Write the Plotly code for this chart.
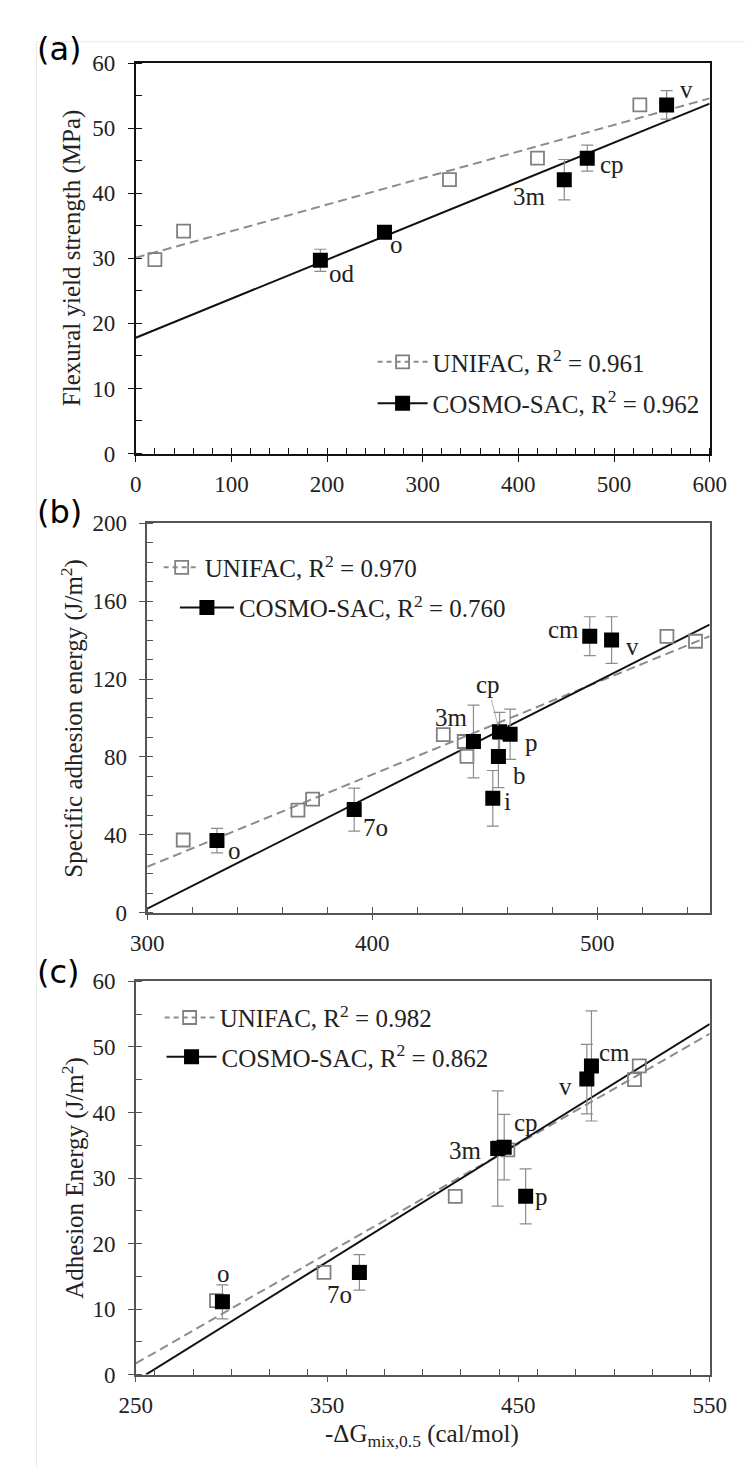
import plotly.graph_objects as go

W, H = 754, 1473

# ---------------- Data ----------------
# Panel (a): Flexural yield strength
a_unifac_x = [20, 50, 328, 420, 527]
a_unifac_y = [29.8, 34.2, 42.1, 45.4, 53.6]
a_cosmo_labels = ["od", "o", "3m", "cp", "v"]
a_cosmo_x = [193, 260, 448, 472, 555]
a_cosmo_y = [29.7, 34.0, 42.1, 45.4, 53.6]
a_cosmo_err = [1.7, 0.5, 3.1, 2.0, 2.2]
a_unifac_fit_x = [0, 600]
a_unifac_fit_y = [30.1, 54.6]
a_cosmo_fit_x = [0, 600]
a_cosmo_fit_y = [17.8, 53.8]
a_r2 = ["0.961", "0.962"]

# Panel (b): Specific adhesion energy
b_unifac_x = [316, 367, 373.5, 431.6, 440.9, 442.1, 457, 531, 543.7]
b_unifac_y = [37.3, 52.6, 58.3, 91.4, 87.9, 80.3, 92.5, 141.9, 139.4]
b_cosmo_labels = ["o", "7o", "3m", "cp", "p", "b", "i", "cm", "v"]
b_cosmo_x = [331, 392, 445, 456.6, 461.3, 456.1, 453.6, 496.7, 506.4]
b_cosmo_y = [37.0, 52.9, 87.9, 92.9, 91.6, 80.2, 58.7, 142.0, 140.0]
b_cosmo_err = [6.3, 11.0, 18.7, 10.0, 12.9, 16.0, 14.3, 10.0, 12.0]
b_unifac_fit_x = [300, 550]
b_unifac_fit_y = [23.5, 142.0]
b_cosmo_fit_x = [300, 550]
b_cosmo_fit_y = [2.0, 148.0]
b_r2 = ["0.970", "0.760"]

# Panel (c): Adhesion energy
c_unifac_x = [292.2, 348.4, 417, 440, 444.5, 510.7, 513.2]
c_unifac_y = [11.3, 15.6, 27.2, 34.6, 34.3, 45.0, 47.1]
c_cosmo_labels = ["o", "7o", "3m", "cp", "p", "v", "cm"]
c_cosmo_x = [295.3, 366.9, 439.2, 442.6, 453.8, 485.8, 488.2]
c_cosmo_y = [11.1, 15.6, 34.5, 34.7, 27.2, 45.1, 47.1]
c_cosmo_err = [2.6, 2.7, 8.8, 5.0, 4.2, 5.3, 8.4]
c_unifac_fit_x = [250, 550]
c_unifac_fit_y = [1.7, 52.0]
c_cosmo_fit_x = [255.3, 550]
c_cosmo_fit_y = [0.0, 53.5]
c_r2 = ["0.982", "0.862"]

# ---------------- Styles ----------------
SERIF = "Liberation Serif, Times New Roman, serif"
TXT = "#222222"
GRAY = "#808080"
ERRC = "#8c8c8c"
TICKFONT = dict(family=SERIF, size=23, color=TXT)
LABFONT = dict(family=SERIF, size=25, color=TXT)

# label pixel offsets (dx right, dy down)
a_off = {"od": (22, 13), "o": (12, 12), "3m": (-35, 17), "cp": (25, 6), "v": (20, -15)}
b_off = {"o": (18, 10), "7o": (21, 18), "3m": (-22, -24), "cp": (-12, -47), "p": (21, 8),
         "b": (21, 19), "i": (15, 3), "cm": (-26, -7), "v": (21, 6)}
c_off = {"o": (1, -28), "7o": (-20, 22), "3m": (-32, 2), "cp": (22, -25), "p": (16, 0),
         "v": (-21, 7), "cm": (23, -13)}

def px_x(p):
    return p / W

def px_y(p):
    return 1 - p / H

panels = [
    dict(key="", ux=a_unifac_x, uy=a_unifac_y, cl=a_cosmo_labels, cx=a_cosmo_x, cy=a_cosmo_y,
         ce=a_cosmo_err, ufx=a_unifac_fit_x, ufy=a_unifac_fit_y, cfx=a_cosmo_fit_x, cfy=a_cosmo_fit_y,
         r2=a_r2, off=a_off, xr=[0, 600], xd=100, xm=20, yr=[0, 60], yd=10, ym=5,
         dom_x=(116, 717), dom_y=(44, 441), lc="#111111", lw=2,
         ytitle="Flexural yield strength (MPa)", tag="(a)", tag_y=29,
         leg=[(364, 348, 50), (364, 390, 50)], arrow=[]),
    dict(key="2", ux=b_unifac_x, uy=b_unifac_y, cl=b_cosmo_labels, cx=b_cosmo_x, cy=b_cosmo_y,
         ce=b_cosmo_err, ufx=b_unifac_fit_x, ufy=b_unifac_fit_y, cfx=b_cosmo_fit_x, cfy=b_cosmo_fit_y,
         r2=b_r2, off=b_off, xr=[300, 550], xd=100, xm=20, yr=[0, 200], yd=40, ym=10,
         dom_x=(128, 717), dom_y=(512, 908), lc="#555555", lw=1.5,
         ytitle="Specific adhesion energy (J/m<sup>2</sup>)", tag="(b)", tag_y=500,
         leg=[(140, 557, 36), (157, 598, 54)], arrow=["cp"]),
    dict(key="3", ux=c_unifac_x, uy=c_unifac_y, cl=c_cosmo_labels, cx=c_cosmo_x, cy=c_cosmo_y,
         ce=c_cosmo_err, ufx=c_unifac_fit_x, ufy=c_unifac_fit_y, cfx=c_cosmo_fit_x, cfy=c_cosmo_fit_y,
         r2=c_r2, off=c_off, xr=[250, 550], xd=100, xm=20, yr=[0, 60], yd=10, ym=5,
         dom_x=(116, 717), dom_y=(978, 1378), lc="#555555", lw=1.5,
         ytitle="Adhesion Energy (J/m<sup>2</sup>)", tag="(c)", tag_y=968,
         leg=[(141, 1015, 50), (143, 1055, 50)], arrow=[]),
]

fig = go.Figure()
annotations = []
layout = {}
legend_no = 0

for i, p in enumerate(panels):
    k = p["key"]
    xa = "x" + k
    ya = "y" + k
    # fit lines
    fig.add_trace(go.Scatter(x=p["ufx"], y=p["ufy"], mode="lines", xaxis=xa, yaxis=ya,
                             line=dict(color="#8c8c8c", width=2, dash="9px,5px"),
                             showlegend=False, hoverinfo="skip"))
    fig.add_trace(go.Scatter(x=p["cfx"], y=p["cfy"], mode="lines", xaxis=xa, yaxis=ya,
                             line=dict(color="#111111", width=2),
                             showlegend=False, hoverinfo="skip"))
    # UNIFAC points
    fig.add_trace(go.Scatter(x=p["ux"], y=p["uy"], mode="markers", xaxis=xa, yaxis=ya,
                             marker=dict(symbol="square-open", size=13, color=GRAY,
                                         line=dict(width=1.8, color=GRAY)),
                             showlegend=False))
    # COSMO points with error bars
    fig.add_trace(go.Scatter(x=p["cx"], y=p["cy"], mode="markers", xaxis=xa, yaxis=ya,
                             marker=dict(symbol="square", size=15, color="#000000",
                                         line=dict(width=0)),
                             error_y=dict(type="data", array=p["ce"], visible=True,
                                          color=ERRC, thickness=1.2, width=6),
                             showlegend=False))
    # legend entries (one legend box per entry so each can be placed like the original)
    entries = [
        ("UNIFAC, R<sup>2</sup> = " + p["r2"][0],
         dict(color="#8c8c8c", width=2, dash="5px,4px"),
         dict(symbol="square-open", size=13, color=GRAY, line=dict(width=1.8, color=GRAY))),
        ("COSMO-SAC, R<sup>2</sup> = " + p["r2"][1],
         dict(color="#111111", width=2),
         dict(symbol="square", size=15, color="#000000")),
    ]
    for (name, ln, mk), (lx, ly, iw) in zip(entries, p["leg"]):
        legend_no += 1
        lname = "legend" if legend_no == 1 else "legend%d" % legend_no
        fig.add_trace(go.Scatter(x=[None], y=[None], mode="lines+markers", xaxis=xa, yaxis=ya,
                                 name=name, legend=lname, line=ln, marker=mk))
        layout[lname] = dict(x=px_x(lx), y=px_y(ly), xanchor="left", yanchor="middle",
                             bgcolor="rgba(0,0,0,0)", font=LABFONT, itemwidth=iw,
                             borderwidth=0)

    # axes
    common = dict(showgrid=False, zeroline=False, showline=True, linecolor=p["lc"], linewidth=p["lw"],
                  mirror=True, ticks="outside", ticklen=6, tickwidth=1, tickcolor=p["lc"],
                  tickfont=TICKFONT, fixedrange=True)
    layout["xaxis" + k] = dict(common, range=p["xr"], dtick=p["xd"], tick0=p["xr"][0],
                               domain=[px_x(p["dom_x"][0]), px_x(p["dom_x"][1])], anchor=ya,
                               minor=dict(ticks="inside", ticklen=6, dtick=p["xm"], tickcolor=p["lc"],
                                          tickwidth=1),
                               ticklabelstandoff=3)
    layout["yaxis" + k] = dict(common, range=p["yr"], dtick=p["yd"], tick0=0,
                               domain=[px_y(p["dom_y"][1]), px_y(p["dom_y"][0])], anchor=xa,
                               minor=dict(ticks="inside", ticklen=6, dtick=p["ym"], tickcolor=p["lc"],
                                          tickwidth=1),
                               ticklabelstandoff=8)
    # overlay axes: inner half of the crossing major ticks
    n = i + 4
    layout["xaxis%d" % n] = dict(overlaying=xa, anchor=ya, side="bottom", range=p["xr"], dtick=p["xd"],
                                 tick0=p["xr"][0], ticks="inside", ticklen=6, tickwidth=1,
                                 tickcolor=p["lc"], showticklabels=False, showline=False,
                                 showgrid=False, zeroline=False, fixedrange=True)
    layout["yaxis%d" % n] = dict(overlaying=ya, anchor=xa, side="left", range=p["yr"], dtick=p["yd"],
                                 tick0=0, ticks="inside", ticklen=6, tickwidth=1,
                                 tickcolor=p["lc"], showticklabels=False, showline=False,
                                 showgrid=False, zeroline=False, fixedrange=True)

    # point labels
    for lab, x, y in zip(p["cl"], p["cx"], p["cy"]):
        dx, dy = p["off"][lab]
        if lab in p["arrow"]:
            annotations.append(dict(x=x, y=y, xref=xa, yref=ya, text=lab, showarrow=True,
                                    ax=dx, ay=dy, arrowhead=0, arrowwidth=0.8, arrowcolor="#999999",
                                    standoff=6, font=LABFONT))
        else:
            annotations.append(dict(x=x, y=y, xref=xa, yref=ya, text=lab, showarrow=False,
                                    xshift=dx, yshift=-dy, font=LABFONT))

    # y title
    yc = (p["dom_y"][0] + p["dom_y"][1]) / 2
    annotations.append(dict(x=px_x(50), y=px_y(yc), xref="paper", yref="paper", text=p["ytitle"],
                            textangle=-90, showarrow=False, xanchor="center", yanchor="middle",
                            font=dict(family=SERIF, size=25, color=TXT)))
    # panel tag
    annotations.append(dict(x=px_x(10), y=px_y(p["tag_y"]), xref="paper", yref="paper", text=p["tag"],
                            showarrow=False, xanchor="left", yanchor="middle",
                            font=dict(family="DejaVu Sans", size=32, color="#000000")))

# x-axis title for (c)
annotations.append(dict(x=px_x(416), y=px_y(1440), xref="paper", yref="paper",
                        text="-ΔG<sub>mix,0.5</sub> (cal/mol)", showarrow=False,
                        xanchor="center", yanchor="middle",
                        font=dict(family=SERIF, size=25, color=TXT)))

# faint outer frame of the scanned figure (top and left edges)
shapes = [
    dict(type="line", xref="paper", yref="paper", x0=px_x(12), x1=1, y0=px_y(22), y1=px_y(22),
         line=dict(color="#ebebeb", width=1), layer="below"),
    dict(type="line", xref="paper", yref="paper", x0=px_x(12), x1=px_x(12), y0=px_y(22), y1=0,
         line=dict(color="#ebebeb", width=1), layer="below"),
]

fig.update_layout(**layout)
fig.update_layout(width=W, height=H, margin=dict(l=0, r=0, t=0, b=0),
                  paper_bgcolor="white", plot_bgcolor="white",
                  annotations=annotations, shapes=shapes, showlegend=True)

fig.write_html("out.html")
